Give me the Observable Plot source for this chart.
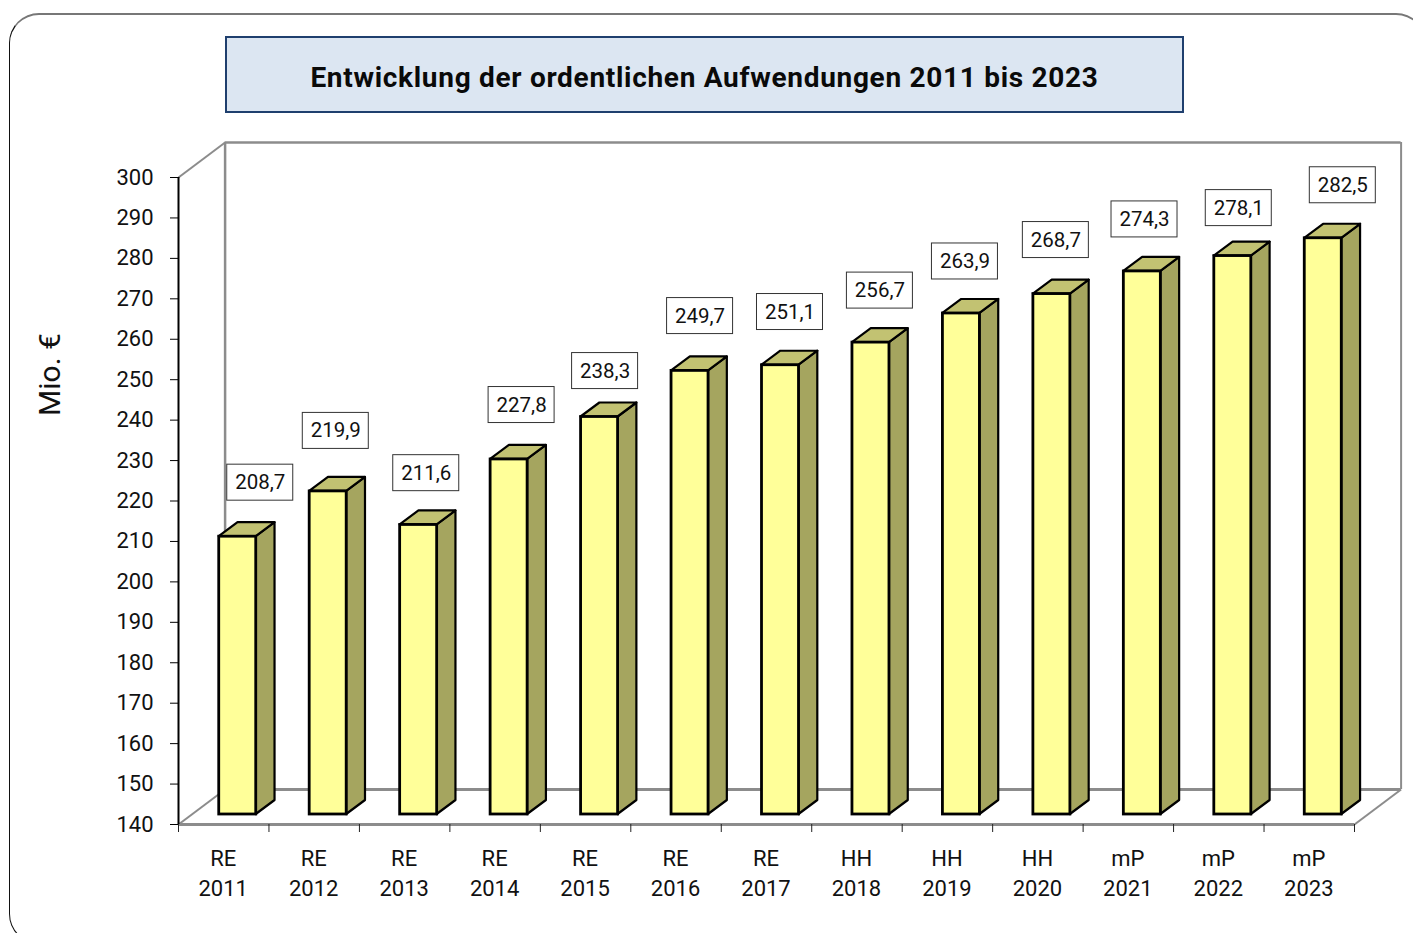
<!DOCTYPE html>
<html lang="de">
<head>
<meta charset="utf-8">
<title>Entwicklung der ordentlichen Aufwendungen 2011 bis 2023</title>
<script src="https://cdn.jsdelivr.net/npm/d3@7"></script>
<script src="https://cdn.jsdelivr.net/npm/@observablehq/plot@0.6"></script>
<style>
html,body{margin:0;padding:0;width:1413px;height:933px;overflow:hidden;background:#fff;}
#frame{position:absolute;left:9px;top:13px;width:1417px;height:931px;box-sizing:border-box;border:1px solid #111;border-top:2px solid #777;border-radius:30px;}
#title{position:absolute;left:225px;top:36px;width:959px;height:77px;box-sizing:border-box;padding-top:5px;border:2px solid #1f3f6e;background:#dce6f2;display:flex;align-items:center;justify-content:center;font:700 28px Roboto,sans-serif;color:#0a0a0a;letter-spacing:.7px;}
#chart{position:absolute;left:0;top:0;}
</style>
</head>
<body>
<div id="frame"></div>
<div id="title">Entwicklung der ordentlichen Aufwendungen 2011 bis 2023</div>
<div id="chart"></div>
<script>
const stages = ["RE","RE","RE","RE","RE","RE","RE","HH","HH","HH","mP","mP","mP"];
const years  = [2011,2012,2013,2014,2015,2016,2017,2018,2019,2020,2021,2022,2023];
const values = [208.7,219.9,211.6,227.8,238.3,249.7,251.1,256.7,263.9,268.7,274.3,278.1,282.5];
const labelShiftX = [.155,-.01,-.01,.044,-.033,.017,.011,.005,-.055,-.05,-.07,-.028,.122];
const labelShiftY = [.5,2.1,-.05,.6,-1.5,.7,.3,0,0,.5,0,-1,.25];

const unitX = 1176 / 13, unitY = 647 / 160;
const yMin = 140, yMax = 300;
const wallX = 46.6 / unitX, wallY = 35 / unitY;    // depth of the chart box
const gapX = 14 / unitX, gapY = 10 / unitY;        // front of bar behind the axis plane
const depthX = 18.8 / unitX, depthY = 14 / unitY;  // bar depth
const barW = 37 / unitX;

const bars = values.map((v,i)=>{
  const left = i + .5 - barW/2 + gapX, right = left + barW;
  const bottom = yMin + gapY, top = v + gapY;
  return {i,v,left,right,bottom,top,label:d3.format(".1f")(v).replace(".",",")};
});
const side = bars.flatMap(b=>[
  {i:b.i,x1:b.right,x2:b.right,y1:b.bottom,y2:b.top},
  {i:b.i,x1:b.right+depthX,x2:b.right+depthX,y1:b.bottom+depthY,y2:b.top+depthY}
]);
const topFace = bars.flatMap(b=>[
  {i:b.i,x1:b.left,x2:b.right,y1:b.top,y2:b.top},
  {i:b.i,x1:b.left+depthX,x2:b.right+depthX,y1:b.top+depthY,y2:b.top+depthY}
]);
const labelBoxes = bars.map((b,i)=>{
  const cx = b.left + 27/unitX + labelShiftX[i];
  const cy = b.top + 52/unitY + labelShiftY[i];
  return {cx,cy,label:b.label};
});
const wall = "#8c8c8c";
const boxW = 66/unitX, boxH = 36/unitY;

const chart = Plot.plot({
  width:1413, height:933,
  marginLeft:178, marginRight:59, marginTop:177, marginBottom:109,
  style:{background:"transparent",fontFamily:"Roboto, sans-serif",overflow:"visible"},
  x:{domain:[0,13],range:[178,1354]},
  y:{domain:[yMin,yMax],range:[824,177]},
  marks:[
    // box edges: back wall and floor
    Plot.ruleX([wallX],{y1:yMin+wallY,y2:yMax+wallY,stroke:wall,strokeWidth:2.5}),
    Plot.ruleX([13+wallX],{y1:yMin+wallY,y2:yMax+wallY,stroke:wall,strokeWidth:2}),
    Plot.ruleY([yMax+wallY],{x1:wallX,x2:13+wallX,stroke:wall,strokeWidth:2.5}),
    Plot.ruleY([yMin+wallY],{x1:wallX,x2:13+wallX,stroke:wall,strokeWidth:3}),
    Plot.ruleY([yMin],{x1:0,x2:13,stroke:wall,strokeWidth:3}),
    Plot.link([[0,yMin],[13,yMin],[0,yMax]],{x1:d=>d[0],y1:d=>d[1],x2:d=>d[0]+wallX,y2:d=>d[1]+wallY,stroke:wall,strokeWidth:2}),
    // axes
    Plot.ruleX([0],{y1:yMin,y2:yMax,stroke:"#000",strokeWidth:2}),
    Plot.axisY({ticks:d3.range(yMin,yMax+1,10),tickSize:8,tickPadding:17,fontSize:22,label:null,stroke:"#000",color:"#111",tickFormat:d=>d}),
    Plot.axisX(d3.range(0,14),{tickSize:8,tickFormat:()=>"",label:null,stroke:"#222"}),
    Plot.axisX(d3.range(13).map(i=>i+.5),{tickSize:0,tickPadding:20,dx:-.5,fontSize:22,lineHeight:1.37,label:null,color:"#111",
      tickFormat:d=>stages[d-.5]+"\n"+years[d-.5]}),
    Plot.text(["Mio. €"],{x:0,y:(824-374)/unitY+yMin,dx:-128,rotate:-90,fontSize:30,fill:"#111",textAnchor:"middle"}),
    // bars
    Plot.area(side,{x1:"x1",y1:"y1",x2:"x2",y2:"y2",z:"i",fill:"#a5a55f",stroke:"#000",strokeWidth:2.2,strokeLinejoin:"round"}),
    Plot.area(topFace,{x1:"x1",y1:"y1",x2:"x2",y2:"y2",z:"i",fill:"#c2c272",stroke:"#000",strokeWidth:2.2,strokeLinejoin:"round"}),
    Plot.rect(bars,{x1:"left",x2:"right",y1:"bottom",y2:"top",fill:"#ffff99",stroke:"#000",strokeWidth:2.8}),
    // value labels
    Plot.rect(labelBoxes,{x1:d=>d.cx-boxW/2,x2:d=>d.cx+boxW/2,y1:d=>d.cy-boxH/2,y2:d=>d.cy+boxH/2,fill:"#fff",stroke:"#333",strokeWidth:1}),
    Plot.text(labelBoxes,{x:"cx",y:"cy",text:"label",fontSize:20.5,fill:"#111"})
  ]
});
document.getElementById("chart").append(chart);
</script>
</body>
</html>
